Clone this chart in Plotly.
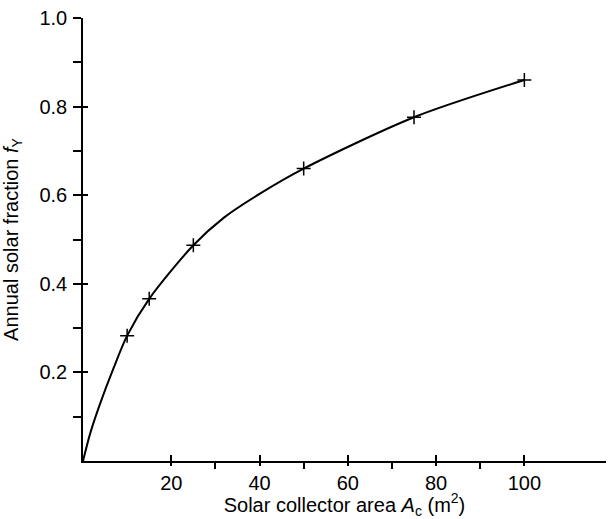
import plotly.graph_objects as go

# Measured annual solar fraction at several collector areas
collector_area = [10, 15, 25, 50, 75, 100]
solar_fraction = [0.283, 0.366, 0.487, 0.66, 0.776, 0.86]

# Smooth fitted curve through the origin and the measured points
curve_area = [0, 1.65, 3.9, 6.9, 10, 15, 25, 32, 40, 50, 75, 100]
curve_fraction = [0, 0.063, 0.13, 0.209, 0.283, 0.366, 0.487, 0.55, 0.603, 0.66, 0.776, 0.86]

x_major = [20, 40, 60, 80, 100]
x_minor = [30, 50, 70, 90]
y_major = [0.2, 0.4, 0.6, 0.8, 1.0]
y_labels = ["0.2", "0.4", "0.6", "0.8", "1.0"]
y_minor = [0.1, 0.3, 0.5, 0.7, 0.9]

FONT = "Liberation Sans, Arial, Helvetica, sans-serif"
X_RANGE = [0, 118.5]
Y_RANGE = [0, 1.0]

fig = go.Figure()
fig.add_trace(go.Scatter(
    x=curve_area, y=curve_fraction, mode="lines",
    line=dict(color="black", width=2, shape="spline", smoothing=0.8),
    hoverinfo="skip", showlegend=False,
))
fig.add_trace(go.Scatter(
    x=collector_area, y=solar_fraction, mode="markers",
    marker=dict(symbol="cross-thin", size=10, line=dict(color="black", width=1.5)),
    showlegend=False, xaxis="x2", yaxis="y2",
))

fig.update_layout(
    width=608, height=519,
    margin=dict(l=83, r=2, t=18, b=58),
    paper_bgcolor="white", plot_bgcolor="white",
    font=dict(family=FONT, size=20, color="black"),
    xaxis=dict(
        range=X_RANGE, showgrid=False, zeroline=False,
        showline=True, linecolor="black", linewidth=1.5,
        tickmode="array", tickvals=x_major,
        ticks="outside", ticklen=3, tickwidth=1.5, tickcolor="black",
        minor=dict(tickmode="array", tickvals=x_minor, ticks="outside",
                   ticklen=6, tickwidth=1.5, tickcolor="black"),
        tickfont=dict(size=20), ticklabelstandoff=0,
        title=dict(text="Solar collector area <i>A</i><sub>c</sub> (m<sup>2</sup>)",
                   font=dict(size=20), standoff=8),
    ),
    yaxis=dict(
        range=Y_RANGE, showgrid=False, zeroline=False,
        showline=True, linecolor="black", linewidth=1.5,
        tickmode="array", tickvals=y_major, ticktext=y_labels,
        ticks="outside", ticklen=8, tickwidth=1.5, tickcolor="black",
        minor=dict(tickmode="array", tickvals=y_minor, ticks="outside",
                   ticklen=8, tickwidth=1.5, tickcolor="black"),
        tickfont=dict(size=20), ticklabelstandoff=2,
        title=dict(text="Annual solar fraction <i>f</i><sub>Y</sub>",
                   font=dict(size=20), standoff=16),
    ),
    # overlay axes give the major ticks their inner half
    xaxis2=dict(
        overlaying="x", matches="x", anchor="y2", side="bottom",
        showline=False, showgrid=False, zeroline=False, showticklabels=False,
        tickmode="array", tickvals=x_major,
        ticks="inside", ticklen=6, tickwidth=1.5, tickcolor="black",
    ),
    yaxis2=dict(
        overlaying="y", matches="y", anchor="x2", side="left",
        showline=False, showgrid=False, zeroline=False, showticklabels=False,
        tickmode="array", tickvals=y_major,
        ticks="inside", ticklen=5, tickwidth=1.5, tickcolor="black",
    ),
)

fig.write_html("out.html")
